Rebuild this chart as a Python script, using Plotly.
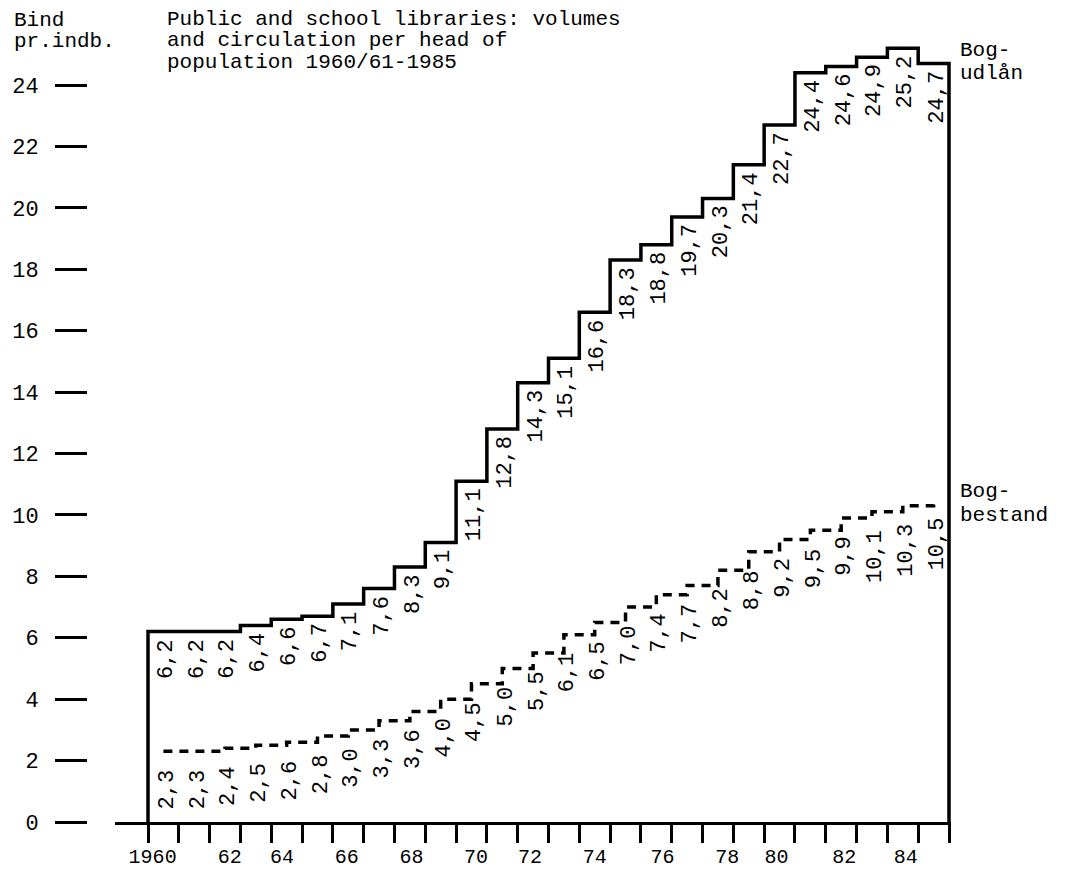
import plotly.graph_objects as go

# ---------------- data ----------------
udlaan = [6.2, 6.2, 6.2, 6.4, 6.6, 6.7, 7.1, 7.6, 8.3, 9.1, 11.1, 12.8, 14.3,
          15.1, 16.6, 18.3, 18.8, 19.7, 20.3, 21.4, 22.7, 24.4, 24.6, 24.9, 25.2, 24.7]
bestand = [2.3, 2.3, 2.4, 2.5, 2.6, 2.8, 3.0, 3.3, 3.6, 4.0, 4.5, 5.0, 5.5,
           6.1, 6.5, 7.0, 7.4, 7.7, 8.2, 8.8, 9.2, 9.5, 9.9, 10.1, 10.3, 10.5]
year_labels = ["1960", "62", "64", "66", "68", "70", "72", "74", "76", "78", "80", "82", "84"]
y_ticks = [0, 2, 4, 6, 8, 10, 12, 14, 16, 18, 20, 22, 24]

# ---------------- layout constants ----------------
W, H = 1065, 869
O = 8                          # page offset of the figure (body margin)
PLOT_BOTTOM = 822 - O          # figure pixel row of y = 0
PX_X = (949 - 148) / 26        # pixels per period
PX_Y = (822 - 85) / 24         # pixels per unit
X0_PX = 148                    # page pixel column of period 0
year_label_pos = [0.15, 2.65, 4.35, 6.45, 8.55, 10.65, 12.4, 14.5, 16.7, 18.8, 20.4, 22.6, 24.6]
FONT = dict(family="Liberation Mono, Courier New, monospace", size=22, color="black")
HFONT = dict(family="Liberation Mono, Courier New, monospace", size=21, color="black")
TFONT = dict(family="Liberation Mono, Courier New, monospace", size=20, color="black")

n = len(udlaan)

def fx(px):
    return (px - O) / W

def fy(py):
    return (PLOT_BOTTOM - (py - O)) / PLOT_BOTTOM

x_left = (115 - X0_PX) / PX_X
x_right = (951 - X0_PX) / PX_X

fig = go.Figure()

# solid step line: Bogudlån
xs_solid = [0] + list(range(n)) + [n, n]
ys_solid = [0] + udlaan + [udlaan[-1], 0]
fig.add_trace(go.Scatter(x=xs_solid, y=ys_solid, mode="lines",
                         line=dict(color="black", width=3.5, shape="hv"),
                         hoverinfo="skip", showlegend=False))

# dashed step line: Bogbestand
xs_dash = [k + 0.5 for k in range(n)]
fig.add_trace(go.Scatter(x=xs_dash, y=bestand, mode="lines",
                         line=dict(color="black", width=3.5, shape="hv", dash="9px,7px"),
                         hoverinfo="skip", showlegend=False))

def fmt(v):
    return f"{v:.1f}".replace(".", ",")

annotations = []
for k, v in enumerate(udlaan):
    annotations.append(dict(x=k + 0.6, y=v, xref="x", yref="y", text=fmt(v),
                            textangle=-90, showarrow=False, xanchor="center",
                            yanchor="top", yshift=-5, font=FONT))
for k, v in enumerate(bestand):
    annotations.append(dict(x=k + 0.62, y=v, xref="x", yref="y", text=fmt(v),
                            textangle=-90, showarrow=False, xanchor="center",
                            yanchor="top", yshift=-16, font=FONT))

def txt(s, px, py, anchor="left"):
    annotations.append(dict(x=fx(px), y=fy(py), xref="paper", yref="paper", text=s,
                            showarrow=False, xanchor=anchor, yanchor="middle", font=HFONT))

txt("Bind", 12, 20)
txt("pr.indb.", 12, 41)
txt("Public and school libraries: volumes", 165, 19.5)
txt("and circulation per head of", 165, 40.8)
txt("population 1960/61-1985", 165, 62)
txt("Bog-", 958, 51)
txt("udlån", 958, 74)
txt("Bog-", 958, 492)
txt("bestand", 958, 515)

fig.update_layout(
    width=W, height=H,
    margin=dict(l=0, r=0, t=0, b=H - PLOT_BOTTOM, pad=0),
    paper_bgcolor="white", plot_bgcolor="white",
    showlegend=False,
    annotations=annotations,
    xaxis=dict(domain=[fx(115), fx(951)], range=[x_left, x_right],
               showline=True, linewidth=3, linecolor="black",
               showgrid=False, zeroline=False,
               tickmode="array", tickvals=year_label_pos, ticktext=year_labels,
               ticks="", tickfont=TFONT, ticklabelstandoff=14,
               minor=dict(tickmode="array", tickvals=list(range(n + 1)),
                          ticks="outside", ticklen=18, tickwidth=3,
                          tickcolor="black", showgrid=False)),
    yaxis=dict(anchor="free", position=fx(87), side="left",
               range=[0, PLOT_BOTTOM / PX_Y],
               showline=False, showgrid=False, zeroline=False,
               tickmode="array", tickvals=y_ticks,
               ticks="outside", ticklen=32, tickwidth=3, tickcolor="black",
               tickfont=FONT, ticklabelstandoff=12),
)

fig.write_html("out.html")
